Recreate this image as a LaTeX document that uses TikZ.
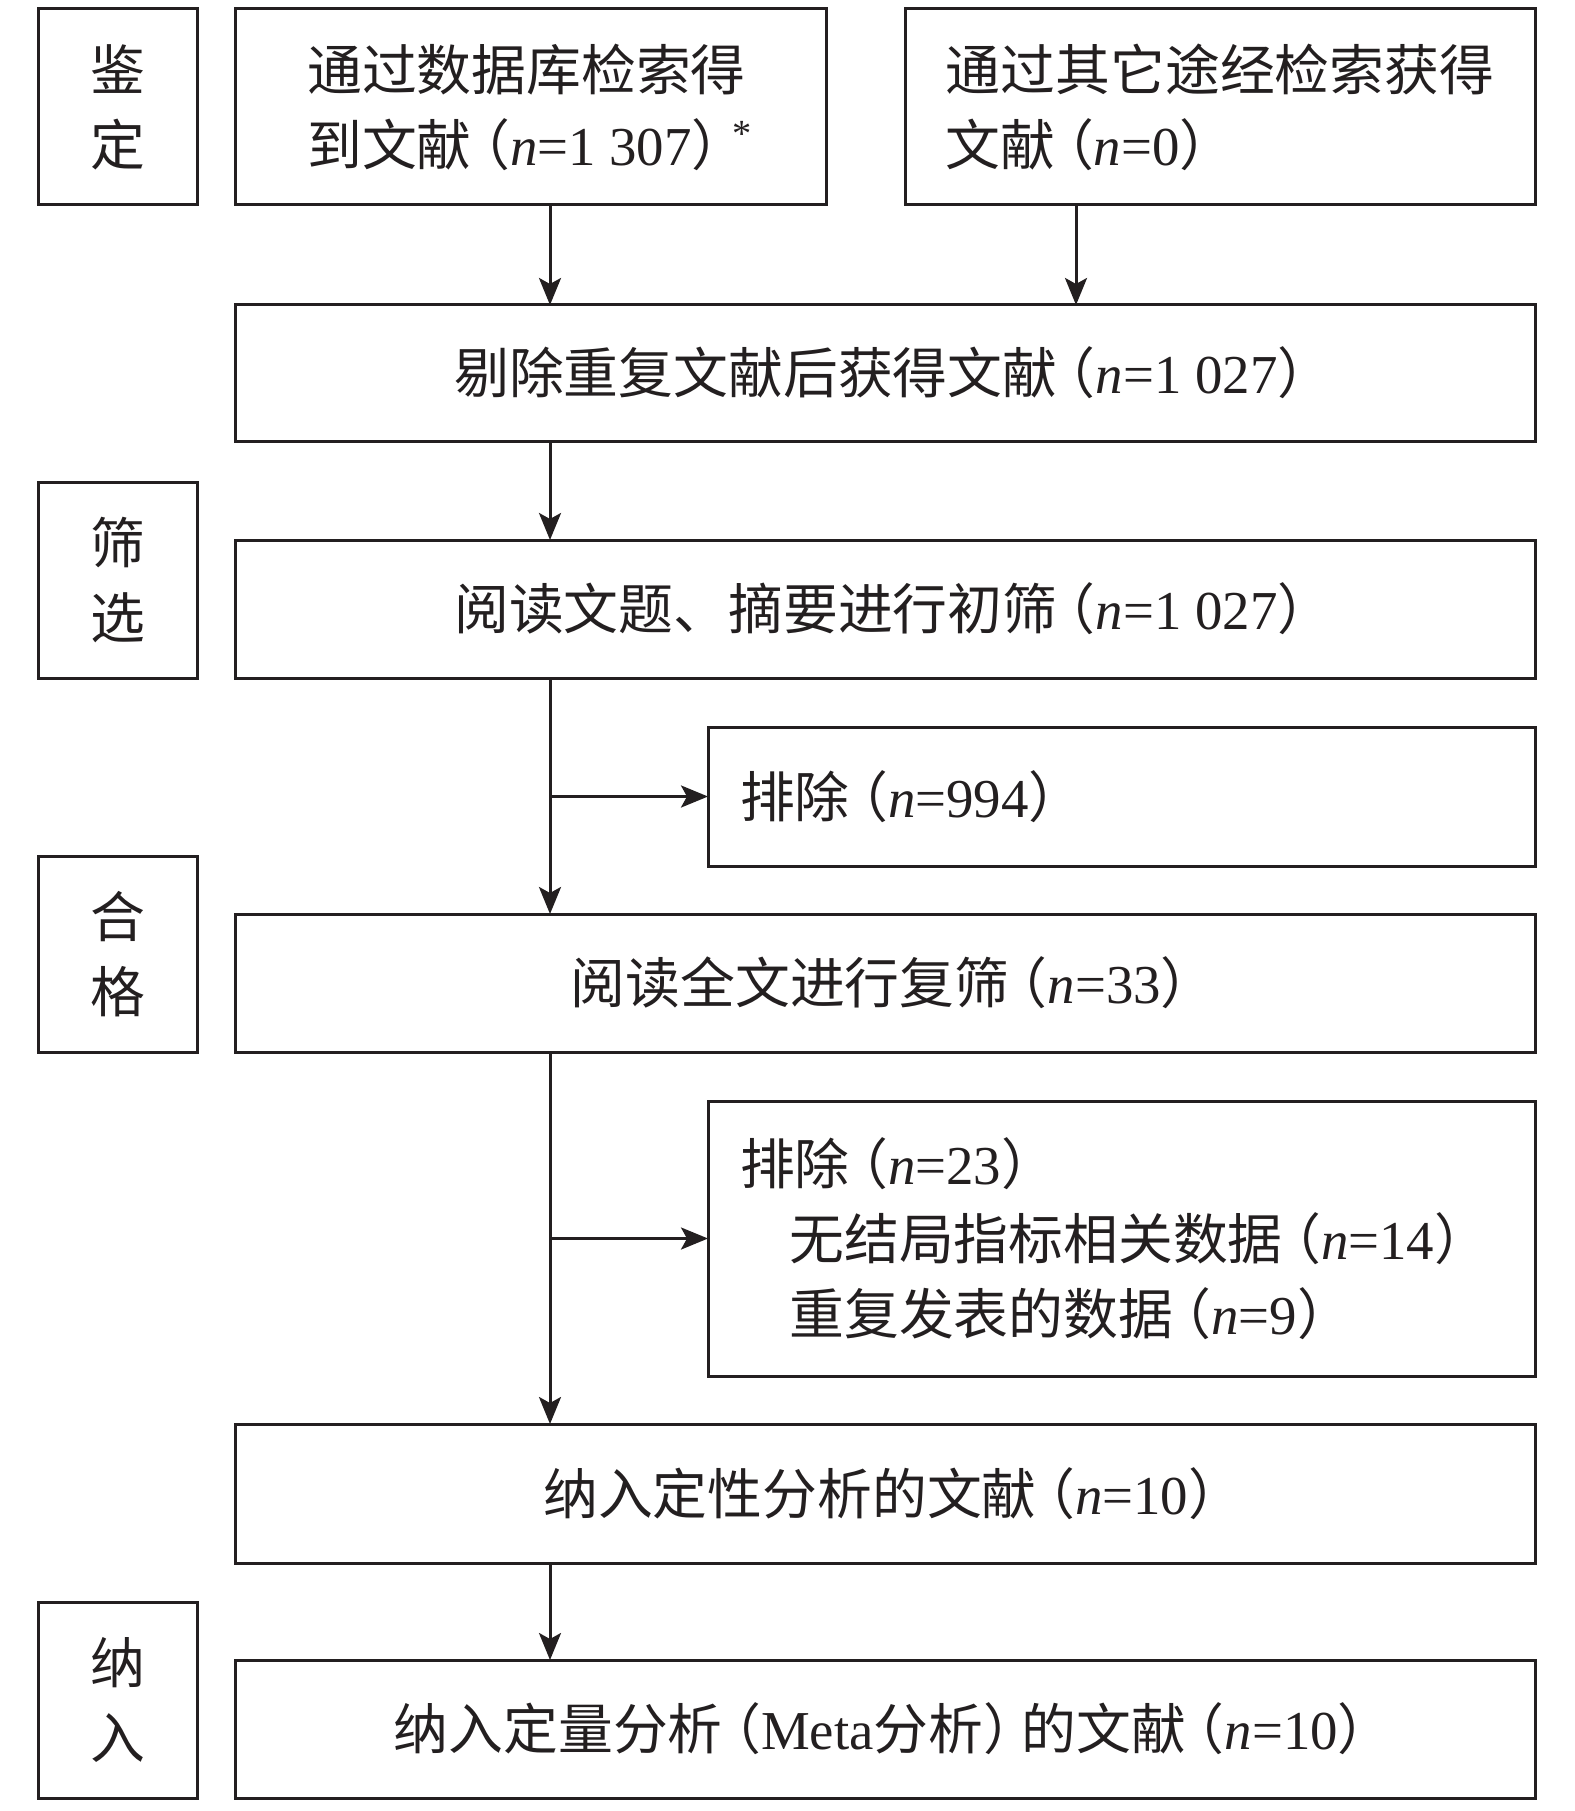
\documentclass[tikz,border=0pt]{standalone}
\usepackage{fontspec}
\setmainfont{Noto Sans CJK SC}
\newfontfamily\lat{Liberation Serif}
\usepackage{xcolor}
\usetikzlibrary{arrows.meta,positioning}
\definecolor{ink}{HTML}{231F20}
\newcommand{\paren}[1]{\kern-.3em（#1）\kern-.3em}
\newcommand{\cnt}[1]{\paren{{\lat\textit{n}=#1}}}

\begin{document}
\begin{tikzpicture}[x=1mm, y=1mm,
        box/.style={draw=ink, line width=0.3mm, text=ink, inner sep=0pt, outer sep=0pt,
            font=\fontsize{15.6pt}{21.3pt}\selectfont, align=center},
        stage/.style={box, minimum width=15.8mm, minimum height=19.6mm},
        excl/.style={box, minimum width=82.7mm, text width=76.3mm,
            inner xsep=3.2mm, align=left},
        flow/.style={draw=ink, line width=0.3mm,
            -{Stealth[length=2.7mm, width=2.2mm, inset=0.6mm]}}]
                \useasboundingbox (0,0) rectangle (157.5,-181.1);

                \node [box, minimum width=59.1mm, minimum height=19.6mm,
                        anchor=north west, align=left] (db) at (23.5,-0.9)
                            {通过数据库检索得\\到文献\cnt{1~307}\kern.05em\textsuperscript{\lat *}};
                \node [box, minimum width=63mm, minimum height=19.6mm,
                        right = 7.9mm of db, align=left]
                                        (other) {通过其它途经检索获得\\文献\cnt{0}};
                \node [box, minimum width=130mm, minimum height=13.6mm,
                        below = 10mm of db.south west, anchor=north west]
                                        (dedup) {剔除重复文献后获得文献\cnt{1~027}};
                \node [box, minimum width=130mm, minimum height=13.8mm,
                        below = 9.9mm of dedup]
                                        (title) {阅读文题、摘要进行初筛\cnt{1~027}};
                \node [excl, minimum height=13.9mm,
                        below = 4.9mm of title.south east, anchor=north east]
                                        (excl1) {排除\cnt{994}};
                \node [box, minimum width=130mm, minimum height=13.8mm,
                        below = 23.6mm of title]
                                        (full) {阅读全文进行复筛\cnt{33}};
                \node [excl, minimum height=27.5mm,
                        below = 4.9mm of full.south east, anchor=north east]
                                        (excl2) {排除\cnt{23}\\
                                            \hspace*{0.9em}无结局指标相关数据\cnt{14}\\
                                            \hspace*{0.9em}重复发表的数据\cnt{9}};
                \node [box, minimum width=130mm, minimum height=13.9mm,
                        below = 37.2mm of full]
                                        (qual) {纳入定性分析的文献\cnt{10}};
                \node [box, minimum width=130mm, minimum height=13.8mm,
                        below = 9.7mm of qual]
                                        (quant) {纳入定量分析\paren{{\lat Meta}分析}的文献\cnt{10}};

                % stage labels on the left
                \node [stage, left = 3.8mm of db.south west, anchor=south east] (s1) {鉴\\定};
                \node [stage, left = 3.8mm of title.south west, anchor=south east] (s2) {筛\\选};
                \node [stage, left = 3.8mm of full.south west, anchor=south east] (s3) {合\\格};
                \node [stage, left = 3.8mm of quant.south west, anchor=south east] (s4) {纳\\入};

                \coordinate (spine) at (55,0);
                \coordinate (side) at (107.6,0);

                \draw [flow] (db.south -| spine) -- (dedup.north -| spine);
                \draw [flow] (other.south -| side) -- (dedup.north -| side);
                \draw [flow] (dedup.south -| spine) -- (title.north -| spine);
                \draw [flow] (title.south -| spine) -- (full.north -| spine);
                \draw [flow] (full.south -| spine) -- (qual.north -| spine);
                \draw [flow] (qual.south -| spine) -- (quant.north -| spine);
                \draw [flow] (spine |- excl1.west) -- (excl1.west);
                \draw [flow] (spine |- excl2.west) -- (excl2.west);
            \end{tikzpicture}
\end{document}
